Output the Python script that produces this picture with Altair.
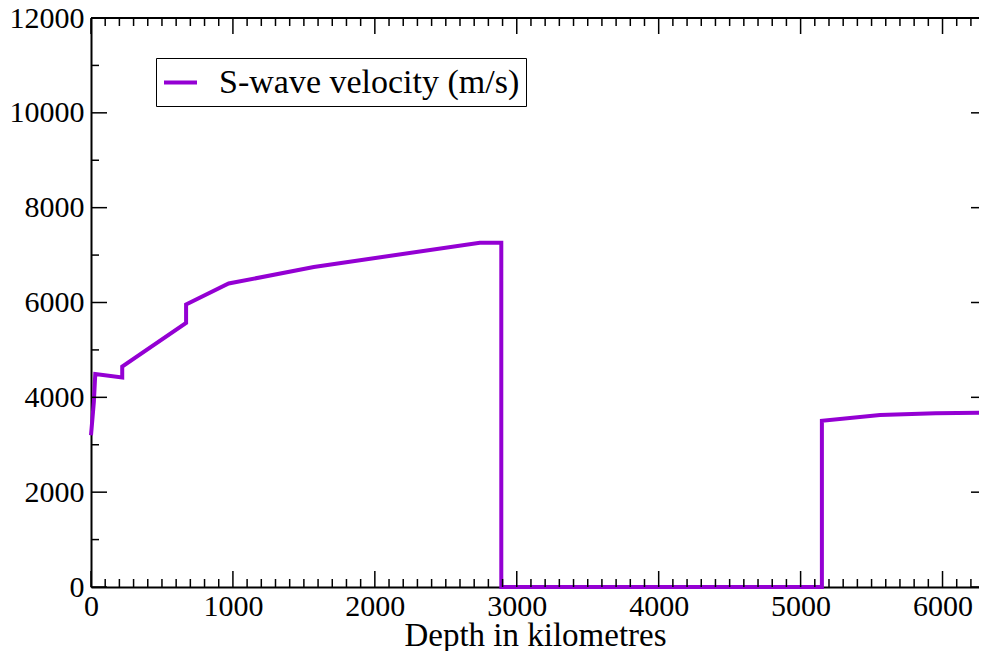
import altair as alt
import pandas as pd

# ---- data ----
DEPTH_KM = [0, 20, 30, 220, 220, 670, 670, 970, 1570, 2740, 2891, 2891, 5150, 5150, 5560, 5950, 6371]
VS_MS = [3200, 3900, 4490, 4420, 4650, 5570, 5960, 6400, 6750, 7260, 7260, 0, 0, 3504, 3625, 3665, 3680]
SERIES = "S-wave velocity (m/s)"

X_MAJOR = [0, 1000, 2000, 3000, 4000, 5000, 6000]
X_MINOR = [v for v in range(100, 6300, 100) if v % 1000]
Y_MAJOR = [0, 2000, 4000, 6000, 8000, 10000, 12000]
Y_MINOR = [1000, 3000, 5000, 7000, 9000, 11000]

W, H = 888, 569
X_MAX = 6257  # right edge of the visible part of the plot
PURPLE = "#9400d3"
FONT = "Liberation Serif"

df = pd.DataFrame({"depth": DEPTH_KM, "vs": VS_MS, "i": list(range(len(DEPTH_KM))), "series": SERIES})

x_scale = alt.Scale(domain=[0, X_MAX], nice=False, zero=False)
y_scale = alt.Scale(domain=[0, 12000], nice=False)

x_axis = alt.Axis(title="Depth in kilometres", values=X_MAJOR, format="d", ticks=False,
                  domain=True, domainColor="black", domainWidth=2, grid=False, labelFont=FONT,
                  labelFontSize=30, labelColor="black", labelPadding=4, labelFlush=False,
                  labelOverlap=False, titleFont=FONT, titleFontSize=33,
                  titleFontWeight="normal", titleColor="black", titleBaseline="alphabetic",
                  titleY=58)
y_axis = alt.Axis(title="", values=Y_MAJOR, format="d", ticks=False, domain=True,
                  domainColor="black", domainWidth=2, grid=False, labelFont=FONT,
                  labelFontSize=30, labelColor="black", labelPadding=7, labelFlush=False,
                  labelOverlap=False)

line = alt.Chart(df).mark_line(strokeWidth=4, strokeJoin="miter").encode(
    x=alt.X("depth:Q", scale=x_scale, axis=x_axis),
    y=alt.Y("vs:Q", scale=y_scale, axis=y_axis),
    color=alt.Color("series:N", scale=alt.Scale(domain=[SERIES], range=[PURPLE]),
                    legend=alt.Legend(title=None, orient="none", legendX=65, legendY=40,
                                      strokeColor="black", padding=6, symbolType="stroke",
                                      symbolStrokeWidth=4, symbolSize=1089, labelFont=FONT,
                                      labelFontSize=34, labelColor="black", labelLimit=1000,
                                      labelOffset=20)),
    order="i:Q",
)


def xticks(vals, length, top):
    d = pd.DataFrame({"depth": vals})
    if top:
        yy, yy2 = alt.value(0), alt.value(length)
    else:
        yy, yy2 = alt.value(H), alt.value(H - length)
    return alt.Chart(d).mark_rule(color="black", strokeWidth=1.5).encode(
        x=alt.X("depth:Q", scale=x_scale, axis=x_axis), y=yy, y2=yy2)


def yticks(vals, x_from, x_to):
    d = pd.DataFrame({"vs": vals})
    return alt.Chart(d).mark_rule(color="black", strokeWidth=1.5).encode(
        y=alt.Y("vs:Q", scale=y_scale, axis=y_axis), x=alt.value(x_from), x2=alt.value(x_to))


top_line = alt.Chart(pd.DataFrame({"depth": [0]})).mark_rule(color="black", strokeWidth=2).encode(
    x=alt.value(0), x2=alt.value(W), y=alt.value(0))

chart = alt.layer(
    line,
    xticks(X_MAJOR, 16, False), xticks(X_MINOR, 8, False),
    xticks(X_MAJOR, 16, True), xticks(X_MINOR, 8, True),
    yticks(Y_MAJOR, 0, 16), yticks(Y_MINOR, 0, 8),
    yticks(Y_MAJOR, W - 8, W),
    top_line,
).properties(
    width=W, height=H,
    autosize=alt.AutoSizeParams(type="none"),
    padding={"left": 83, "top": 10, "right": 0, "bottom": 64},
    background="white",
).configure_view(stroke=None).configure_axis(
    labelFont=FONT, titleFont=FONT, labelFontSize=30, labelColor="black"
).configure(font=FONT)

chart.save("out.html", embed_options={"renderer": "svg", "actions": False})
